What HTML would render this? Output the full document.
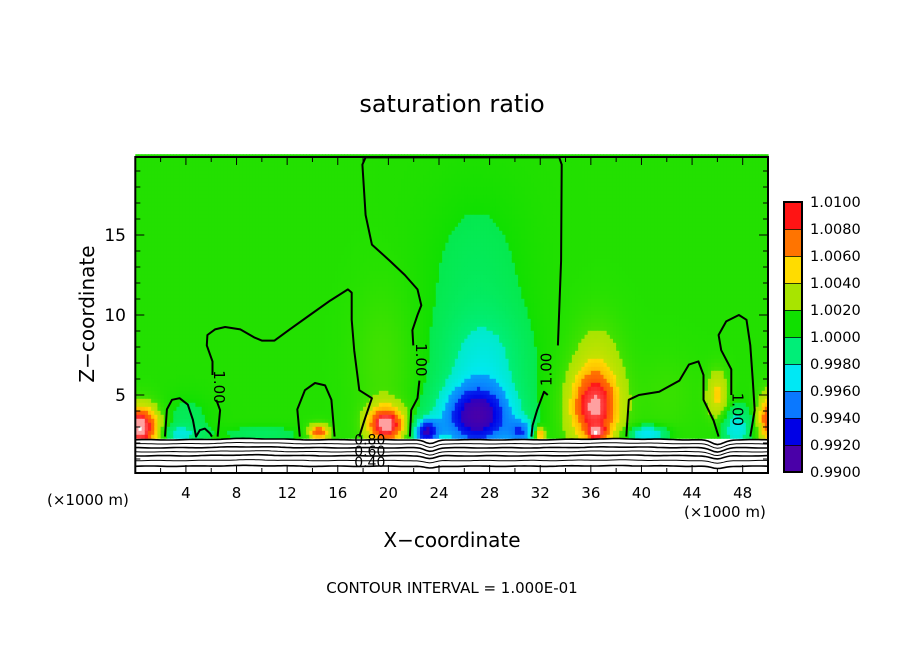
<!DOCTYPE html>
<html><head><meta charset="utf-8"><style>
body{margin:0;background:#fff;}
svg{display:block;font-family:"DejaVu Sans","Liberation Sans",sans-serif;}
</style></head><body>
<svg id="chart" width="904" height="654" viewBox="0 0 904 654" xmlns="http://www.w3.org/2000/svg">
<rect width="904" height="654" fill="#fff"/>
<text x="452" y="112" font-size="24" text-anchor="middle">saturation ratio</text>
<g id="field"></g>
<g id="ground"></g>
<g id="contours"></g>
<g id="axes"></g>
<g id="cbar"></g>
<text transform="translate(94,314) rotate(-90)" font-size="20" text-anchor="middle">Z−coordinate</text>
<text x="452" y="547" font-size="20" text-anchor="middle">X−coordinate</text>
<text x="47" y="505" font-size="15">(×1000 m)</text>
<text x="684" y="517" font-size="15">(×1000 m)</text>
<text x="452" y="593" font-size="15" text-anchor="middle">CONTOUR INTERVAL = 1.000E-01</text>
</svg>
<script>
// ---- data ----
const xDomain=[0,50], zDomain=[0,20];
const baseValue=1.0007;
// blobs: [cx km, cz km, sx km, sz km, amplitude]
const blobs=[
[0.3,3,1.5,1.3,0.011],[3.5,2.6,1.5,0.5,-0.003],[4,3.5,2,1.5,-0.0012],
[14.5,2.7,0.8,0.5,0.007],[10,2.6,3,0.5,-0.0015],
[19.8,3.2,1.4,1.1,0.010],[19.5,7,2.2,4.5,0.0012],
[23,2.7,1,0.8,-0.008],[27,3.6,2.9,2.0,-0.0095],[27.5,7,3.2,3,-0.003],[27,12,4,6,-0.0012],
[30.5,2.7,1,0.8,-0.005],[36.3,4.2,1.9,2.3,0.009],[36.5,7,2,3,0.002],[36.5,2.7,0.7,0.4,0.005],
[32,2.6,0.4,0.4,0.006],[40.5,2.6,1.5,0.5,-0.005],[42,5,2.5,2.5,0.0008],
[46,5,0.8,1.5,0.004],[47.5,3,1.2,1.2,-0.004],[50,3.5,0.8,1.5,0.007]
];
const groundTop=2.3;
const levelValues=[0.990,0.992,0.994,0.996,0.998,1.000,1.002,1.004,1.006,1.008,1.010];
const levelLabels=["0.9900","0.9920","0.9940","0.9960","0.9980","1.0000","1.0020","1.0040","1.0060","1.0080","1.0100"];
const binColors=["#4a00a8","#0000e6","#0a78ff","#00e8f4","#00ee78","#10e000","#a8e400","#ffdc00","#ff7400","#ff1414","#ffa0a0"];
const xTickValues=[4,8,12,16,20,24,28,32,36,40,44,48];
const zTickValues=[5,10,15];
const groundHeights=[2.2,1.95,1.7,1.45,1.2,0.9,0.55];
const groundDips=[[23.3,0.6,-0.25],[46,0.7,-0.3],[9,3,0.08],[38,4,0.06]];
const contourA1=[[6.5,2.4],[6.7,4.05],[6.4,4.7]];
const contourA2=[[6.1,6.25],[6.1,7.1],[5.65,8.1],[5.7,8.75],[6.3,9.1],[7.1,9.25],[8.3,9.1],[9.4,8.6],[10,8.4],[11,8.4],[12.2,9.1],[13.8,10],[15.4,10.9],[16.8,11.6],[17.1,11.4],[17.1,9.7],[17.3,7.8],[17.7,5.3],[18.7,4.8],[18.1,3.4],[17.7,2.4]];
const contourB=[[2.35,2.4],[2.5,4.1],[2.9,4.7],[3.5,4.8],[4.15,4.4],[4.55,3.45],[4.8,2.4],[5.1,2.8],[5.5,2.9],[5.9,2.6],[6.05,2.4]];
const contourC=[[13,2.4],[12.8,4.1],[13.4,5.3],[14.2,5.75],[15,5.6],[15.5,4.7],[15.75,2.4]];
const contourD1=[[21.7,2.4],[21.8,4.05],[22.3,4.8],[22.45,5.9]];
const contourD2=[[21.97,8.1],[21.9,9.05],[22.3,10],[22.6,10.6],[22.3,11.6],[21.3,12.5],[20.1,13.4],[18.7,14.4],[18.2,16.25],[17.95,19.4],[18.2,19.85],[33.5,19.85],[33.7,19.4],[33.65,13.4],[33.4,8.1]];
const contourD3=[[32.6,5.0],[32.3,5.2],[31.75,4.05],[31.4,3.1],[31.3,2.4]];
const contourE=[[38.8,2.4],[39,4.7],[39.8,5],[41.4,5.2],[43,5.9],[43.75,6.9],[44.5,7.1],[44.9,6.25],[44.9,4.7],[45.7,3.4],[46.1,2.4]];
const contourF=[[47.1,5],[47.1,6.6],[46.3,7.8],[46.1,8.75],[46.7,9.6],[47.7,10],[48.3,9.7],[48.6,8.1],[48.8,5.9],[48.95,4.05],[48.6,2.4]];
const contourLabels=[[6.2,5.5],[22.2,7.2],[32.9,6.6],[47.2,4.1]];
// ---- scales ----
const PX0=135.3,PX1=768,PY0=475,PY1=155;
const sx=x=>PX0+(x-xDomain[0])/(xDomain[1]-xDomain[0])*(PX1-PX0);
const sy=z=>PY0-(z-zDomain[0])/(zDomain[1]-zDomain[0])*(PY0-PY1);
const NS='http://www.w3.org/2000/svg';
function mk(t,a,p){const e=document.createElementNS(NS,t);for(const k in a)e.setAttribute(k,a[k]);p.appendChild(e);return e;}
function val(x,z){let v=baseValue;for(const b of blobs){const ux=(x-b[0])/b[2],uz=(z-b[1])/b[3];v+=b[4]*Math.exp(-ux*ux-uz*uz);}return v;}
function hex(c){return [1,3,5].map(i=>parseInt(c.substr(i,2),16));}
function mix(a,b,t){const A=hex(a),B=hex(b);return 'rgb('+A.map((v,i)=>Math.round(v+(B[i]-v)*t)).join(',')+')';}
function col(v){
 const n=levelValues.length;
 if(v>=levelValues[n-1]+0.0015)return "#ffffff";
 if(v>=levelValues[n-1])return binColors[n-1];
 let i=0;while(i<n-1&&v>=levelValues[i+1])i++;
 const t=Math.max(0,Math.min(1,(v-levelValues[i])/(levelValues[i+1]-levelValues[i])));
 return mix(binColors[i],binColors[Math.min(i+1,n-1)],t*0.35);
}
// heatmap
const F=document.getElementById('field');
const cdx=0.25,cdz=0.25;
for(let x=0;x<50;x+=cdx){for(let z=groundTop;z<20;z+=cdz){
 const r=mk('rect',{x:sx(x).toFixed(2),y:sy(z+cdz).toFixed(2),width:(sx(x+cdx)-sx(x)+0.6).toFixed(2),height:(sy(z)-sy(z+cdz)+0.6).toFixed(2),fill:col(val(x+cdx/2,z+cdz/2))},F);
 
 
}}
// ground lines
const G=document.getElementById('ground');
groundHeights.forEach((h,i)=>{let d='';for(let x=0;x<=50;x+=0.25){let hh=h;for(const g of groundDips){const u=(x-g[0])/g[1];hh+=g[2]*Math.exp(-u*u)*(1-i*0.08);}hh+=0.015*Math.sin(x*1.7+i);d+=(x?'L':'M')+sx(x).toFixed(1)+' '+sy(hh).toFixed(1);}
 const p=mk('path',{d:d,fill:'none',stroke:'#000','stroke-width':i%2?1:1.6},G);
 
 
});
[["0.80",2.15],["0.60",1.45],["0.40",0.75]].forEach(l=>{const t=mk('text',{x:sx(17.3),y:sy(l[1])+4,'font-size':14},G);t.textContent=l[0];
 
 });
// contours
const C=document.getElementById('contours');
[contourA1,contourA2,contourB,contourC,contourD1,contourD2,contourD3,contourE,contourF].forEach(c=>{
 const p=mk('path',{d:c.map((q,i)=>(i?'L':'M')+sx(q[0]).toFixed(1)+' '+sy(q[1]).toFixed(1)).join(''),fill:'none',stroke:'#000','stroke-width':2,'stroke-linejoin':'round'},C);
 
 
});
contourLabels.forEach((l,i)=>{const t=mk('text',{transform:'translate('+sx(l[0])+','+sy(l[1])+') rotate('+(i==2?-90:90)+')','font-size':15,'text-anchor':'middle'},C);t.textContent='1.00';
 
 });
// axes
const A=document.getElementById('axes');
mk('rect',{x:PX0,y:157,width:PX1-PX0,height:PY0-157-2,fill:'none',stroke:'#000','stroke-width':2},A);
for(let x=2;x<50;x+=2){const L=x%4?5:8;mk('line',{x1:sx(x),x2:sx(x),y1:473,y2:473-L,stroke:'#000'},A);mk('line',{x1:sx(x),x2:sx(x),y1:157,y2:157+L,stroke:'#000'},A);}
for(let z=1;z<20;z++){const L=z%5?5:9;mk('line',{x1:PX0,x2:PX0+L,y1:sy(z),y2:sy(z),stroke:'#000'},A);mk('line',{x1:PX1,x2:PX1-L,y1:sy(z),y2:sy(z),stroke:'#000'},A);}
xTickValues.forEach(v=>{const t=mk('text',{x:sx(v),y:498,'font-size':15,'text-anchor':'middle'},A);t.textContent=v;
 
 });
zTickValues.forEach(v=>{const t=mk('text',{x:126,y:sy(v)+6,'font-size':17,'text-anchor':'end'},A);t.textContent=v;
 
 });
// colorbar
const B=document.getElementById('cbar');
const cbTop=202,cbBot=472,nb=levelValues.length-1,bh=(cbBot-cbTop)/nb;
for(let i=0;i<nb;i++){const y=cbBot-(i+1)*bh;
 const r=mk('rect',{x:784,y:y,width:18,height:bh,fill:binColors[i]},B);
 
 
 mk('line',{x1:784,x2:802,y1:y,y2:y,stroke:'#000','stroke-width':1.5},B);}
mk('rect',{x:784,y:cbTop,width:18,height:cbBot-cbTop,fill:'none',stroke:'#000','stroke-width':2},B);
levelLabels.forEach((l,i)=>{const t=mk('text',{x:810,y:cbBot-i*bh+5,'font-size':14.5},B);t.textContent=l;
 
 });
</script>
</body></html>
